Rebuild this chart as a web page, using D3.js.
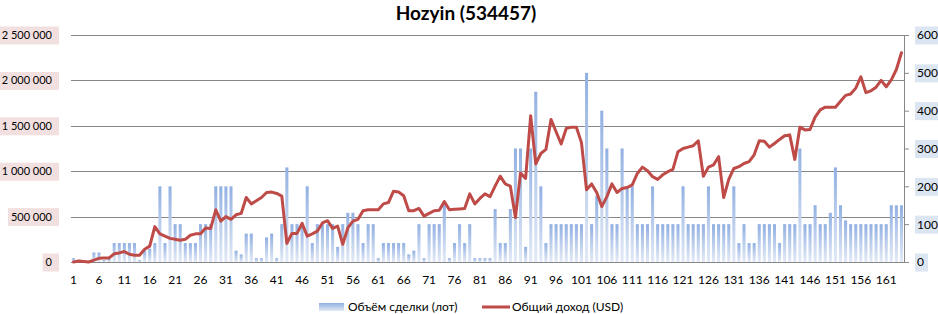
<!DOCTYPE html>
<html>
<head>
<meta charset="utf-8">
<script src="https://cdn.jsdelivr.net/npm/d3@7"></script>
<style>
body { margin: 0; background: #fff; }
text { font-family: Lato, "Open Sans", sans-serif; fill: #000; }
</style>
</head>
<body>
<div id="chart"></div>
<script>
// Chart data: trade volume (bars, right axis) and total income (line, left axis)
const categories = d3.range(1, 165);

const volume = [
    10, 0, 0, 0, 25, 25, 5, 8, 50, 50,
    50, 50, 50, 5, 30, 35, 50, 200, 50, 200,
    100, 100, 50, 50, 50, 100, 100, 100, 200, 200,
    200, 200, 30, 20, 75, 75, 10, 10, 65, 75,
    10, 100, 250, 100, 100, 100, 200, 50, 100, 100,
    100, 100, 40, 100, 130, 130, 100, 50, 100, 100,
    10, 50, 50, 50, 50, 50, 20, 30, 100, 10,
    100, 100, 100, 150, 10, 50, 100, 50, 100, 10,
    10, 10, 10, 140, 50, 50, 140, 300, 300, 40,
    300, 450, 200, 50, 100, 100, 100, 100, 100, 100,
    100, 500, 100, 175, 400, 300, 100, 100, 300, 200,
    200, 100, 100, 100, 200, 100, 100, 100, 100, 100,
    200, 100, 100, 100, 100, 200, 100, 100, 100, 100,
    200, 50, 100, 50, 50, 100, 100, 100, 100, 50,
    100, 100, 100, 300, 100, 100, 150, 100, 100, 130,
    250, 150, 110, 100, 100, 100, 100, 100, 100, 100,
    100, 150, 150, 150
];

const income = [
    0, 10000, 5000, 0, 20000, 40000, 45000, 45000, 90000, 100000,
    115000, 85000, 75000, 75000, 140000, 175000, 390000, 310000, 285000, 260000,
    250000, 240000, 250000, 295000, 310000, 310000, 375000, 370000, 575000, 450000,
    500000, 470000, 520000, 535000, 710000, 640000, 675000, 710000, 765000, 770000,
    755000, 725000, 205000, 315000, 315000, 425000, 285000, 310000, 340000, 430000,
    455000, 370000, 395000, 195000, 375000, 450000, 470000, 565000, 575000, 575000,
    575000, 640000, 655000, 780000, 770000, 730000, 565000, 565000, 590000, 505000,
    535000, 565000, 570000, 665000, 575000, 580000, 585000, 590000, 750000, 640000,
    700000, 750000, 720000, 835000, 945000, 860000, 835000, 490000, 980000, 920000,
    1610000, 1080000, 1195000, 1240000, 1570000, 1435000, 1300000, 1470000, 1485000, 1485000,
    1315000, 795000, 860000, 765000, 610000, 720000, 860000, 765000, 810000, 820000,
    850000, 975000, 1045000, 1005000, 940000, 910000, 960000, 995000, 1020000, 1215000,
    1250000, 1265000, 1280000, 1335000, 945000, 1045000, 1070000, 1160000, 710000, 910000,
    1030000, 1050000, 1085000, 1105000, 1180000, 1335000, 1330000, 1265000, 1305000, 1350000,
    1390000, 1400000, 1130000, 1485000, 1455000, 1460000, 1595000, 1675000, 1705000, 1705000,
    1705000, 1770000, 1835000, 1850000, 1915000, 2040000, 1865000, 1885000, 1925000, 2000000,
    1930000, 2005000, 2120000, 2305000
];

const leftTicks = [0, 500000, 1000000, 1500000, 2000000, 2500000];
const rightTicks = [0, 100, 200, 300, 400, 500, 600];
const xTickLabels = categories.filter((d, i) => i % 5 === 0);

const title = "Hozyin (534457)";
const volumeName = "Объём сделки (лот)";
const incomeName = "Общий доход (USD)";

const width = 938;
const height = 314;
const plot = { left: 71, right: 904, top: 35, bottom: 262 };

const svg = d3.select("#chart")
    .append("svg")
    .attr("width", width)
    .attr("height", height);

// Bar gradient, dark on top, almost white at the bottom (per bar)
const grad = svg.append("defs").append("linearGradient")
    .attr("id", "barGrad")
    .attr("x1", 0).attr("y1", 0).attr("x2", 0).attr("y2", 1);
grad.append("stop").attr("offset", "0%").attr("stop-color", "#91b0e2");
grad.append("stop").attr("offset", "100%").attr("stop-color", "#e3eaf6");

const x = d3.scaleBand()
    .domain(categories)
    .range([plot.left, plot.right])
    .paddingInner(0.4)
    .paddingOuter(0.2);

const yLeft = d3.scaleLinear().domain([0, 2500000]).range([plot.bottom, plot.top]);
const yRight = d3.scaleLinear().domain([0, 600]).range([plot.bottom, plot.top]);

const fmt = d3.formatLocale({ decimal: ",", thousands: " ", grouping: [3], currency: ["", ""] }).format(",");

// Gridlines from the left axis
svg.append("g")
    .selectAll("line")
    .data(leftTicks)
    .enter()
    .append("line")
    .attr("x1", plot.left)
    .attr("x2", plot.right)
    .attr("y1", d => Math.round(yLeft(d)) + 0.5)
    .attr("y2", d => Math.round(yLeft(d)) + 0.5)
    .attr("stroke", "#878787")
    .attr("stroke-width", 1);

// Bars
svg.append("g")
    .selectAll("rect")
    .data(categories)
    .enter()
    .append("rect")
    .attr("x", d => x(d))
    .attr("width", x.bandwidth())
    .attr("y", (d, i) => yRight(volume[i]))
    .attr("height", (d, i) => plot.bottom - yRight(volume[i]))
    .attr("fill", "url(#barGrad)");

// Income line
const line = d3.line()
    .x((d, i) => x(categories[i]) + x.bandwidth() / 2)
    .y(d => yLeft(d));

svg.append("path")
    .datum(income)
    .attr("d", line)
    .attr("fill", "none")
    .attr("stroke", "#be4b48")
    .attr("stroke-width", 3)
    .attr("stroke-linejoin", "round")
    .attr("stroke-linecap", "round");

// Left axis labels with pink background
const leftAxis = svg.append("g")
    .attr("transform", `translate(${plot.left},0)`)
    .call(d3.axisLeft(yLeft).tickValues(leftTicks).tickFormat(fmt).tickSize(0).tickPadding(19));
leftAxis.select(".domain").remove();
leftAxis.selectAll("text").style("font-size", "11px").style("font-family", "Lato, sans-serif").attr("fill", "#000");
leftAxis.selectAll(".tick").each(function () {
    const t = d3.select(this).select("text");
    const b = t.node().getBBox();
    const left = Math.max(b.x - 3, -plot.left);
    d3.select(this).insert("rect", "text")
        .attr("x", left)
        .attr("y", -9)
        .attr("width", -12 - left)
        .attr("height", 18)
        .attr("fill", "#f2e0e0");
});

// Right axis with blue label background
const rightAxis = svg.append("g")
    .attr("transform", `translate(${plot.right},0)`)
    .call(d3.axisRight(yRight).tickValues(rightTicks).tickSize(5).tickPadding(8));
rightAxis.select(".domain").attr("stroke", "#878787");
rightAxis.selectAll("line").attr("stroke", "#878787");
rightAxis.selectAll("text").style("font-size", "12px").style("font-family", "Lato, sans-serif").attr("fill", "#000");
rightAxis.selectAll(".tick").each(function () {
    const t = d3.select(this).select("text");
    const b = t.node().getBBox();
    d3.select(this).insert("rect", "text")
        .attr("x", b.x - 2)
        .attr("y", -9)
        .attr("width", b.width + 6)
        .attr("height", 18)
        .attr("fill", "#dce6f2");
});

// Category axis labels
const xAxis = svg.append("g")
    .attr("transform", `translate(0,${plot.bottom})`)
    .call(d3.axisBottom(x).tickValues(xTickLabels).tickSize(0).tickPadding(13));
xAxis.select(".domain").remove();
xAxis.selectAll("text").style("font-size", "12px").style("font-family", "Lato, sans-serif").attr("fill", "#000");

// Title
svg.append("text")
    .attr("x", 466)
    .attr("y", 20)
    .attr("text-anchor", "middle")
    .style("font-size", "19px")
    .style("font-weight", "bold")
    .text(title);

// Legend
const legend = svg.append("g");
legend.append("rect")
    .attr("x", 319).attr("y", 303)
    .attr("width", 25).attr("height", 8)
    .attr("fill", "url(#barGrad)");
legend.append("text")
    .attr("x", 348).attr("y", 311)
    .style("font-size", "12px")
    .text(volumeName);
legend.append("line")
    .attr("x1", 482).attr("x2", 510)
    .attr("y1", 307).attr("y2", 307)
    .attr("stroke", "#be4b48")
    .attr("stroke-width", 3);
legend.append("text")
    .attr("x", 512).attr("y", 311)
    .style("font-size", "12px")
    .text(incomeName);
</script>
</body>
</html>
